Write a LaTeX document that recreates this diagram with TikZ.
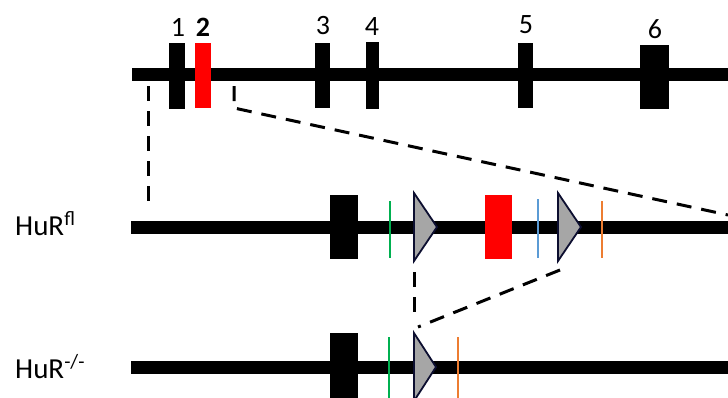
\documentclass[tikz,border=0pt]{standalone}
\usepackage{fontspec}
\setmainfont{Carlito}
\definecolor{exred}{RGB}{255,0,0}
\definecolor{lgreen}{RGB}{0,176,80}
\definecolor{lblue}{RGB}{91,155,213}
\definecolor{lorange}{RGB}{237,125,49}
\definecolor{trigray}{RGB}{166,166,166}
\definecolor{trinavy}{RGB}{12,14,48}
\begin{document}
\begin{tikzpicture}[x=1pt,y=-1pt,
  backbone/.style={line width=13pt},
  exon/.style={fill=black, inner sep=0pt, outer sep=0pt, draw=none},
  redexon/.style={fill=exred, inner sep=0pt, outer sep=0pt, draw=none},
  marker/.style={line width=2pt},
  loxp/.style={fill=trigray, draw=trinavy, line width=1.8pt, line join=miter},
  dashline/.style={line width=3pt, dash pattern=on 15pt off 10pt},
  numlabel/.style={font=\fontsize{28}{30}\selectfont, inner sep=0pt},
  rowlabel/.style={font=\fontsize{29}{31}\selectfont, inner sep=0pt, anchor=base west}]
\useasboundingbox (0,0) rectangle (728,397);
\clip (0,0) rectangle (728,397);

% ---------- top: gene ----------
\coordinate (t0) at (132,74.5);
\coordinate (t1) at (728,74.5);
\draw[backbone] (t0) -- (t1);
\node[exon, minimum width=16pt, minimum height=66pt] (e1) at (177,76) {};
\node[redexon, minimum width=16pt, minimum height=65pt] (e2) at (203,75.5) {};
\node[exon, minimum width=15pt, minimum height=65pt] (e3) at (322.5,75.5) {};
\node[exon, minimum width=13pt, minimum height=67pt] (e4) at (372.5,75.5) {};
\node[exon, minimum width=15pt, minimum height=65pt] (e5) at (525.5,75.5) {};
\node[exon, minimum width=29pt, minimum height=64pt] (e6) at (654.5,77) {};

\node[numlabel] (n1) at (178,27) {1};
\node[numlabel] (n2) at (203,27) {\bfseries 2};
\node[numlabel] (n3) at (323,26) {3};
\node[numlabel] (n4) at (372,27) {4};
\node[numlabel] (n5) at (526,25) {5};
\node[numlabel] (n6) at (655,29) {6};

% ---------- middle: floxed allele ----------
\node[rowlabel] (lfl) at (15,235) {HuR\textsuperscript{fl}};
\coordinate (m0) at (131,227);
\coordinate (m1) at (728,227);
\draw[backbone] (m0) -- (m1);
\node[exon, minimum width=28pt, minimum height=64pt] (me) at (344,227) {};
\draw[marker, lgreen] (390,201) -- (390,258);
\draw[loxp] (414,193) coordinate (la) -- (437,227) -- (414,261) coordinate (lb) -- cycle;
\node[redexon, minimum width=27pt, minimum height=64pt] (mr) at (498.5,227) {};
\draw[marker, lblue] (538,199) -- (538,258);
\draw[loxp] (558,193) coordinate (lc) -- (581,227) -- (558,261) coordinate (ld) -- cycle;
\draw[marker, lorange] (602,201) -- (602,258);

% ---------- bottom: knockout allele ----------
\node[rowlabel] (lko) at (15,378) {HuR\textsuperscript{-/-}};
\coordinate (b0) at (131,367);
\coordinate (b1) at (728,367);
\draw[backbone] (b0) -- (b1);
\node[exon, minimum width=28pt, minimum height=70pt] (be) at (344,368) {};
\draw[marker, lgreen] (389,337) -- (389,400);
\draw[loxp] (414,333) coordinate (le) -- (436,367) -- (414,401) -- cycle;
\draw[marker, lorange] (458,337) -- (458,400);

% ---------- dashed zoom connectors ----------
\coordinate (dl0) at (148,86);
\coordinate (dl1) at (148,205);
\draw[dashline] (dl0) -- (dl1);
\coordinate (dr0) at (234,86);
\coordinate (dr1) at (234,108);
\coordinate (dr2) at (728,215);
\draw[dashline, line join=miter] (dr0) -- (dr1) -- (dr2);
\coordinate (dm0) at (414,272);
\coordinate (dm1) at (414,313);
\draw[dashline] (dm0) -- (dm1);
\coordinate (dn0) at (560,270);
\coordinate (dn1) at (418,327);
\draw[dashline] (dn0) -- (dn1);
\end{tikzpicture}
\end{document}
